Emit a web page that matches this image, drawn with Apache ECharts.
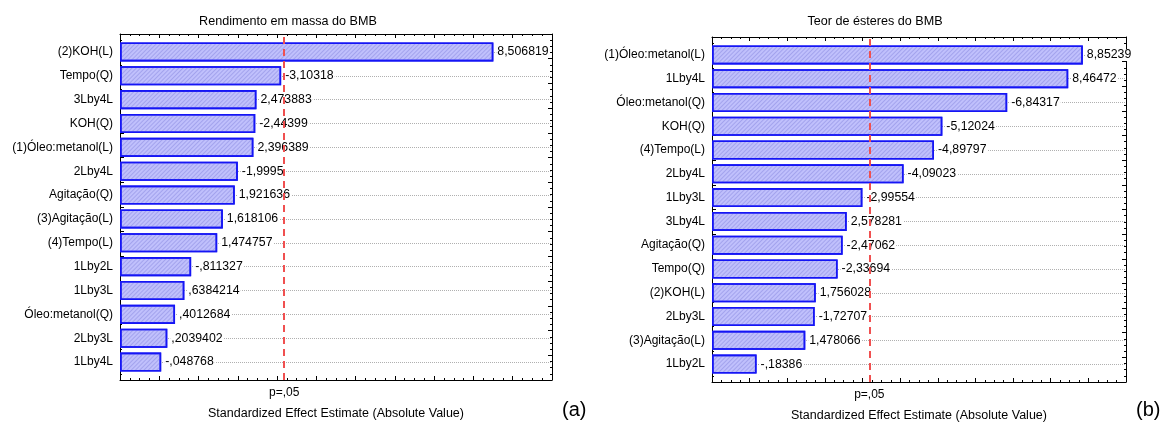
<!DOCTYPE html>
<html>
<head>
<meta charset="utf-8">
<script src="https://cdn.jsdelivr.net/npm/echarts@6/dist/echarts.min.js"></script>
<style>
html,body{margin:0;padding:0;background:#fff;}
#chart{width:1169px;height:427px;}
</style>
</head>
<body>
<div id="chart"></div>
<script>
// ---- Data ----
const titleA = 'Rendimento em massa do BMB';
const categoriesA = ['(2)KOH(L)','Tempo(Q)','3Lby4L','KOH(Q)','(1)Óleo:metanol(L)','2Lby4L','Agitação(Q)','(3)Agitação(L)','(4)Tempo(L)','1Lby2L','1Lby3L','Óleo:metanol(Q)','2Lby3L','1Lby4L'];
const effectsA = [8.506819,-3.10318,2.473883,-2.44399,2.396389,-1.9995,1.921636,1.618106,1.474757,-0.811327,0.6384214,0.4012684,0.2039402,-0.048768];

const titleB = 'Teor de ésteres do BMB';
const categoriesB = ['(1)Óleo:metanol(L)','1Lby4L','Óleo:metanol(Q)','KOH(Q)','(4)Tempo(L)','2Lby4L','1Lby3L','3Lby4L','Agitação(Q)','Tempo(Q)','(2)KOH(L)','2Lby3L','(3)Agitação(L)','1Lby2L'];
const effectsB = [8.85239,8.46472,-6.84317,-5.12024,-4.89797,-4.09023,-2.99554,2.578281,-2.47062,-2.33694,1.756028,-1.72707,1.478066,-0.18386];

const pCrit = 3.182;          // critical t (p=.05)
const pLabel = 'p=,05';
const axisMin = -1, axisMax = 10;
const xAxisName = 'Standardized Effect Estimate (Absolute Value)';
const panelTags = ['(a)','(b)'];

// ---- Helpers ----
const FONT = 'Liberation Sans, Arial, sans-serif';
function fmt(v){
  return String(v).replace('.', ',').replace(/^(-?)0,/, '$1,');
}

const panels = [
  {title:titleA, cats:categoriesA, vals:effectsA, left:120, width:432, top:34, height:346, titleX:283, tag:panelTags[0], tagX:562},
  {title:titleB, cats:categoriesB, vals:effectsB, left:712, width:414, top:37, height:345, titleX:870, tag:panelTags[1], tagX:1136}
];

const grid=[], xAxis=[], yAxis=[], series=[], title=[], graphic=[];
panels.forEach((p,i)=>{
  const n = p.cats.length;
  const pad = 6;
  const fg = grid.length;
  // frame grid
  grid.push({left:p.left, top:p.top, width:p.width, height:p.height, containLabel:false});
  // bar grid
  grid.push({left:p.left, top:p.top+pad, width:p.width, height:p.height-2*pad, containLabel:false});
  // dotted-line grid (category centers)
  const band = (p.height-2*pad)/n;
  grid.push({left:p.left, top:p.top+pad+band/2, width:p.width, height:p.height-2*pad-band, containLabel:false});

  const tickStyle = {show:true, inside:true, length:4, lineStyle:{color:'#000'}};
  const minorStyle = {show:true, splitNumber:4, length:2, lineStyle:{color:'#000'}};
  const lineStyle = {show:true, onZero:false, lineStyle:{color:'#000', width:1}};
  const xi = xAxis.length;
  // frame x bottom
  xAxis.push({gridIndex:fg, type:'value', min:axisMin, max:axisMax, interval:1, position:'bottom',
    axisLine:lineStyle, axisTick:tickStyle, minorTick:minorStyle,
    axisLabel:{show:false}, splitLine:{show:false},
    name:xAxisName, nameLocation:'middle', nameGap:27,
    nameTextStyle:{fontFamily:FONT, fontSize:12.5, color:'#000'}});
  // frame x top
  xAxis.push({gridIndex:fg, type:'value', min:axisMin, max:axisMax, interval:1, position:'top',
    axisLine:lineStyle, axisTick:tickStyle, minorTick:minorStyle,
    axisLabel:{show:false}, splitLine:{show:false}});
  // bar x
  xAxis.push({gridIndex:fg+1, type:'value', min:axisMin, max:axisMax, startValue:axisMin, show:false, splitLine:{show:false}});
  // dotted x
  xAxis.push({gridIndex:fg+2, type:'value', min:axisMin, max:axisMax, show:false, splitLine:{show:false}});

  const yi = yAxis.length;
  yAxis.push({gridIndex:fg, type:'value', min:0, max:14, interval:1, position:'left',
    axisLine:lineStyle, axisTick:tickStyle, minorTick:minorStyle,
    axisLabel:{show:false}, splitLine:{show:false}});
  yAxis.push({gridIndex:fg, type:'value', min:0, max:14, interval:1, position:'right',
    axisLine:lineStyle, axisTick:tickStyle, minorTick:minorStyle,
    axisLabel:{show:false}, splitLine:{show:false}});
  yAxis.push({gridIndex:fg+1, type:'category', data:p.cats, inverse:true,
    axisLine:{show:false}, axisTick:{show:false},
    axisLabel:{fontFamily:FONT, fontSize:12, color:'#000', margin:7}});
  yAxis.push({gridIndex:fg+2, type:'category', data:p.cats, inverse:true, boundaryGap:false,
    axisLine:{show:false}, axisTick:{show:false}, axisLabel:{show:false},
    splitLine:{show:true, lineStyle:{color:'#b0b0b0', type:'dotted', width:1}}});

  // dotted grid dummy
  series.push({type:'scatter', xAxisIndex:xi+3, yAxisIndex:yi+3, data:[], silent:true});

  // bars
  series.push({type:'bar', xAxisIndex:xi+2, yAxisIndex:yi+2, barWidth:'80%', z:3,
    data:p.vals.map(v=>Math.abs(v)),
    itemStyle:{color:'#c0c0fc', borderColor:'#1515f5', borderWidth:1.6,
      decal:{symbol:'rect', symbolSize:1, color:'rgba(110,110,210,0.35)', dashArrayX:[1,0], dashArrayY:[1,2], rotation:-Math.PI/4}},
    label:{show:true, position:'right', distance:3, fontFamily:FONT, fontSize:12.3, color:'#000',
      backgroundColor:'#fff', padding:[0,1],
      formatter:(d)=>fmt(p.vals[d.dataIndex])},
    animation:false});

  // critical line
  series.push({type:'scatter', xAxisIndex:xi, yAxisIndex:yi, data:[], z:10,
    markLine:{silent:true, symbol:['none','none'], animation:false, z:10,
      lineStyle:{color:'#f05050', type:[7,5], width:2},
      label:{show:true, position:'start', formatter:pLabel, fontFamily:FONT, fontSize:12, color:'#000', distance:7},
      data:[{xAxis:pCrit}]}});

  title.push({text:p.title, left:p.titleX, top:10, textAlign:'center',
    textStyle:{fontFamily:FONT, fontSize:12.6, fontWeight:'normal', color:'#000'}});
  graphic.push({type:'text', left:p.tagX, top:400, style:{text:p.tag, font:'20px '+FONT, fill:'#000'}});
});

const chart = echarts.init(document.getElementById('chart'), null, {renderer:'canvas'});
chart.setOption({animation:false, backgroundColor:'#fff', title, grid, xAxis, yAxis, series, graphic});
</script>
</body>
</html>
